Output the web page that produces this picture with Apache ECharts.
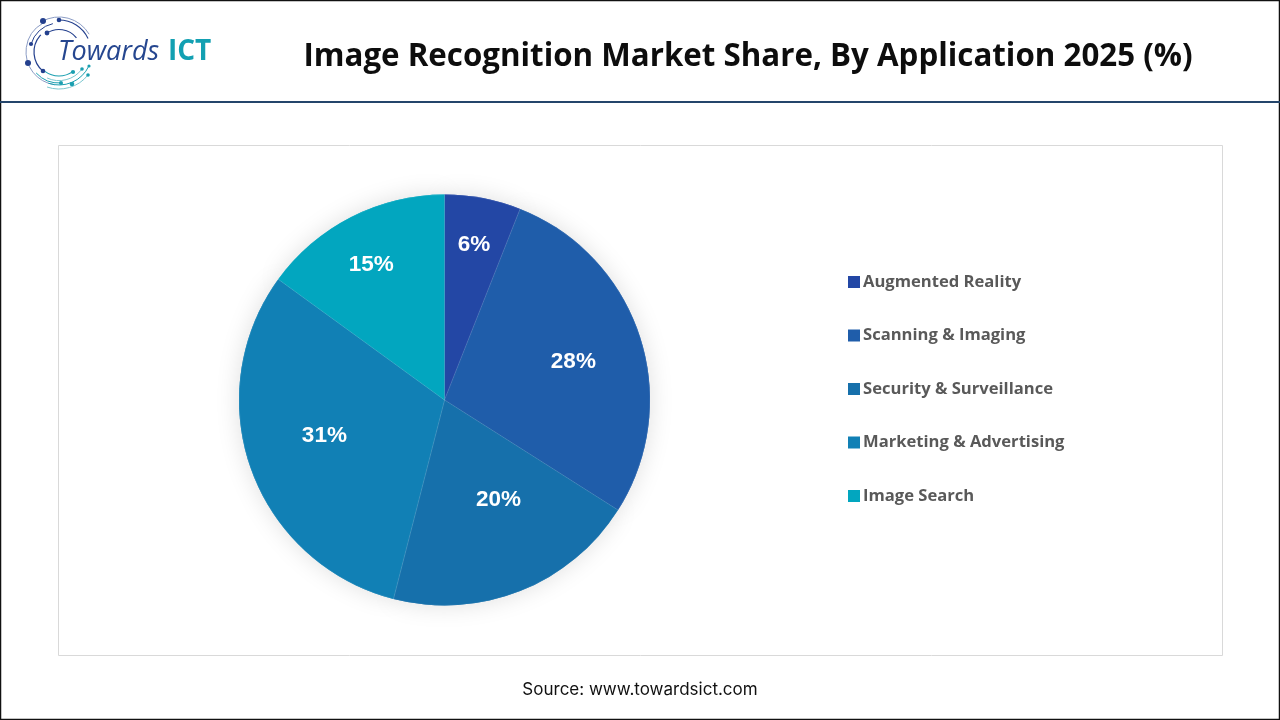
<!DOCTYPE html>
<html>
<head>
<meta charset="utf-8">
<title>Image Recognition Market Share</title>
<style>
  html, body { margin: 0; padding: 0; background: #fff; }
  #chart { width: 1280px; height: 720px; }
</style>
<script src="https://cdn.jsdelivr.net/npm/echarts@6/dist/echarts.min.js"></script>
</head>
<body>
<div id="chart"></div>
<script>
const categories = ['Augmented Reality', 'Scanning & Imaging', 'Security & Surveillance', 'Marketing & Advertising', 'Image Search']
const shares = [6, 28, 20, 31, 15]
const colors = ['#2347a5', '#1f5daa', '#1670ab', '#1180b5', '#02a6bf']

// how far from the pie centre each percentage sits, and the angle nudge (deg)
const labelRadius = [155, 131.5, 110.3, 122.4, 151]
const labelTurn = [0, 1.4, -7, 3.2, -1.4]

const titleText = 'Image Recognition Market Share, By Application 2025 (%)'
const sourceText = 'Source: www.towardsict.com'

const pieData = categories.map((name, i) => ({ name, value: shares[i] }))
const pieCenter = [444.5, 400]
const pieRadius = 205.5

// logo pieces
const navy = '#24408e'
const teal = '#1a9fb0'
const paleBlue = '#8a9bc4'
const paleTeal = '#7cc7cf'
const logoArcs = [
  [35, 4.2, 5.75, paleBlue, 1], [32, 4.71, 5.85, navy, 1.1], [22.5, 4.13, 5.6, navy, 1.2],
  [29, 3.42, 4.5, navy, 1], [33, 1.7, 4.2, paleBlue, 1], [25, 2.27, 3.9, navy, 1.2],
  [24, 0.96, 2.2, teal, 1.1], [28.6, 0.64, 2.0, paleTeal, 1], [33, 0.44, 1.9, teal, 1],
  [37, 0.67, 1.9, paleTeal, 1], [31, 1.5, 2.4, teal, 1]
]
const logoDots = [
  [43, 21, 3, navy], [59, 20, 2.3, navy], [47, 33, 2.4, navy], [31, 44, 2.1, navy],
  [28, 63, 3, navy], [43, 71, 2.3, navy], [73, 72, 2.1, teal], [82, 69, 1.8, teal],
  [89, 66, 1.6, teal], [88, 75, 1.8, teal], [61, 83, 2, teal], [72, 84, 2.3, teal]
]

const logoGraphics = [
  ...logoArcs.map(([r, startAngle, endAngle, stroke, lineWidth]) => ({
    type: 'arc',
    shape: { cx: 59, cy: 52, r, startAngle, endAngle },
    style: { stroke, lineWidth, fill: null }
  })),
  ...logoDots.map(([cx, cy, r, fill]) => ({
    type: 'circle',
    shape: { cx, cy, r },
    style: { fill }
  })),
  {
    type: 'text', x: 58, y: 52,
    style: { text: 'Towards', fill: '#25468f', font: 'italic 400 27px "Open Sans"', textVerticalAlign: 'middle' }
  },
  {
    type: 'text', x: 168, y: 52,
    style: { text: 'ICT', fill: '#12a0b2', font: '700 28px "Open Sans"', textVerticalAlign: 'middle' }
  }
]

// moves each label from the slice middle out to where the reference has it
function placeLabel(params) {
  const i = params.dataIndex
  const total = shares.reduce((a, b) => a + b, 0)
  const before = shares.slice(0, i).reduce((a, b) => a + b, 0)
  const mid = (before + shares[i] / 2) / total * Math.PI * 2
  const to = mid + labelTurn[i] * Math.PI / 180
  const base = pieRadius / 2
  return {
    dx: labelRadius[i] * Math.sin(to) - base * Math.sin(mid),
    dy: -labelRadius[i] * Math.cos(to) + base * Math.cos(mid)
  }
}

const chart = echarts.init(document.getElementById('chart'), null, { renderer: 'canvas' })

chart.setOption({
  animation: false,
  color: colors,
  graphic: [
    // plot frame
    { type: 'rect', shape: { x: 58.5, y: 145.5, width: 1164, height: 510 }, style: { fill: '#fff', stroke: '#d9d9d9', lineWidth: 1 }, z: -10 },
    // page frame and header rule
    { type: 'rect', shape: { x: 0.5, y: 0.5, width: 1279, height: 719 }, style: { fill: null, stroke: '#111', lineWidth: 1.5 } },
    { type: 'rect', shape: { x: 0, y: 101, width: 1280, height: 2 }, style: { fill: '#24456b' } },
    {
      type: 'text', x: 748, y: 57,
      style: { text: titleText, fill: '#0d0d0d', font: '700 31.3px "Open Sans"', textAlign: 'center', textVerticalAlign: 'middle' }
    },
    {
      type: 'text', x: 640, y: 690,
      style: { text: sourceText, fill: '#111', font: '400 17px "Inter"', textAlign: 'center', textVerticalAlign: 'middle' }
    },
    ...logoGraphics
  ],
  legend: {
    orient: 'vertical',
    left: 848,
    top: 272,
    padding: 0,
    icon: 'rect',
    itemWidth: 12,
    itemHeight: 12,
    itemGap: 33.5,
    selectedMode: false,
    data: categories,
    textStyle: {
      color: '#595959',
      fontFamily: 'Open Sans',
      fontWeight: 700,
      fontSize: 16.6,
      lineHeight: 20,
      padding: [0, 0, 0, -2]
    }
  },
  series: [
    // same pie underneath, only for the soft outer shadow
    {
      name: 'Shadow',
      type: 'pie',
      z: 1,
      center: pieCenter,
      radius: [0, pieRadius],
      startAngle: 90,
      silent: true,
      data: pieData,
      label: { show: false },
      labelLine: { show: false },
      itemStyle: { shadowBlur: 24, shadowColor: 'rgba(0,0,0,0.13)' }
    },
    {
      name: 'Share',
      type: 'pie',
      z: 2,
      center: pieCenter,
      radius: [0, pieRadius],
      startAngle: 90,
      silent: true,
      data: pieData,
      labelLine: { show: false },
      labelLayout: placeLabel,
      itemStyle: { borderColor: 'rgba(255,255,255,0.18)', borderWidth: 0.6 },
      label: {
        show: true,
        position: 'inside',
        formatter: '{c}%',
        color: '#fff',
        fontFamily: 'Liberation Sans',
        fontWeight: 700,
        fontSize: 22.5
      }
    }
  ]
})

window.addEventListener('resize', chart.resize)
</script>
</body>
</html>
